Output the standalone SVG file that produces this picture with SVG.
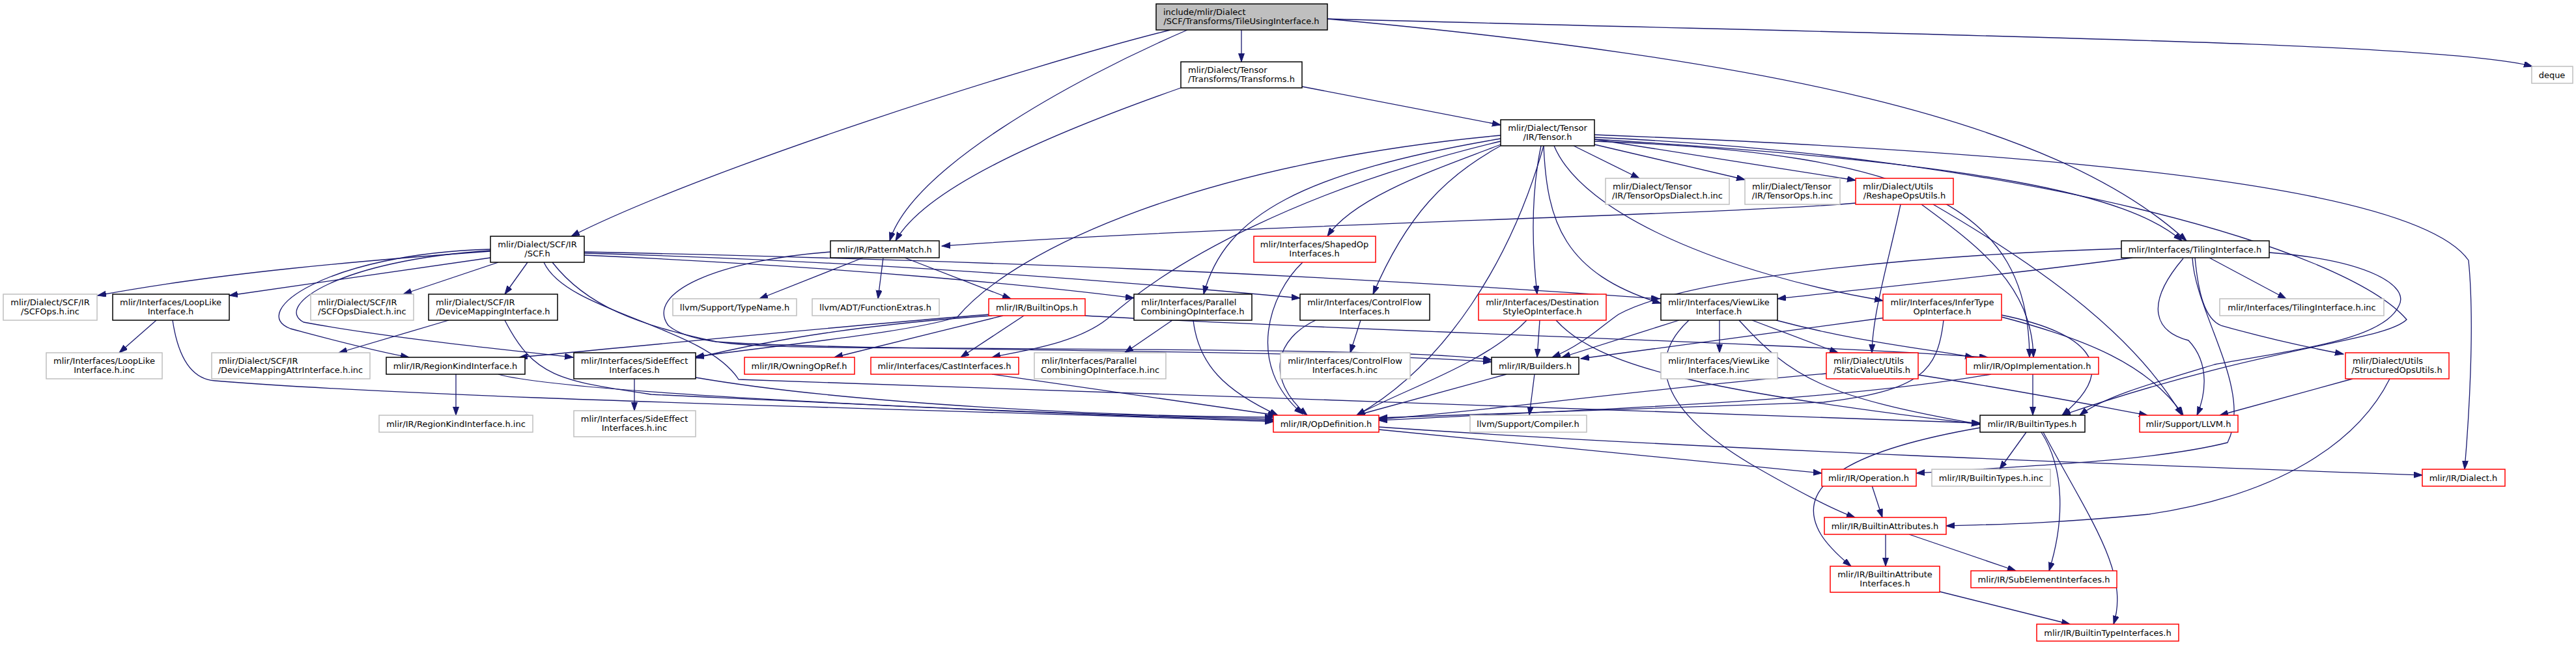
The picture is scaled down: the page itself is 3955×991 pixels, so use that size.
<svg xmlns="http://www.w3.org/2000/svg" width="3955" height="991" viewBox="0 0 3955 991">
<defs>
<marker id="ah" markerUnits="userSpaceOnUse" markerWidth="14" markerHeight="10" refX="13" refY="4.5" orient="auto">
<path d="M0,0 L13,4.5 L0,9 z" fill="#191970" stroke="#191970" stroke-width="1"/>
</marker>
<style>
rect{fill:#fff;stroke-width:1.5}
.b{stroke:#000}.r{stroke:#ff0000}.g{stroke:#bfbfbf}
.root{fill:#bfbfbf;stroke:#000}
text{font-family:"DejaVu Sans","Liberation Sans",sans-serif;font-size:13px;fill:#000}
.m{text-anchor:middle}
#edges path{fill:none;stroke:#191970;stroke-width:1.3;marker-end:url(#ah)}
</style>
</defs>
<rect width="3955" height="991" style="fill:#fff;stroke:none"/>
<g id="edges">
<path d="M1797,46 C1580,100 1080,260 877,363"/>
<path d="M1823,46 C1640,125 1400,260 1366,370"/>
<path d="M1906,46 L1906,95"/>
<path d="M2038,29 C2700,90 3150,180 3357,370"/>
<path d="M2038,29 C3000,55 3750,65 3888,102"/>
<path d="M1813,135 C1600,210 1420,290 1375,370"/>
<path d="M1999,133 L2304,192"/>
<path d="M2416,224 L2517,274"/>
<path d="M2448,222 L2679,276"/>
<path d="M2448,214 L2849,277"/>
<path d="M2304,222 C2220,255 2080,300 2038,363"/>
<path d="M2304,224 C2220,270 2160,330 2108,452"/>
<path d="M2366,224 C2350,300 2352,380 2360,452"/>
<path d="M2370,224 C2375,340 2400,420 2550,466"/>
<path d="M2386,224 C2430,330 2650,420 2891,462"/>
<path d="M2370,224 C2320,400 2220,560 2083,638"/>
<path d="M2304,208 C1850,250 1560,380 1470,487 C1400,510 1200,530 1068,548"/>
<path d="M2304,213 C2000,265 1880,330 1848,452"/>
<path d="M2304,217 C2000,290 1800,400 1700,490 C1650,530 1560,540 1523,549"/>
<path d="M2448,207 C3300,240 3720,300 3790,400 C3800,500 3790,650 3784,721"/>
<path d="M2448,211 C3100,240 3600,380 3695,491 C3660,525 3480,530 3166,638"/>
<path d="M2448,214 C3050,250 3270,300 3350,370"/>
<path d="M2448,217 C2950,235 3115,320 3116,549"/>
<path d="M2849,312 C2650,330 1900,345 1446,378"/>
<path d="M2918,314 C2900,400 2875,480 2874,542"/>
<path d="M2950,314 C3040,380 3120,440 3122,549"/>
<path d="M2968,314 C3150,420 3280,520 3350,638"/>
<path d="M753,386 C560,400 330,420 150,454"/>
<path d="M753,396 L352,454"/>
<path d="M765,403 L619,452"/>
<path d="M810,403 L775,452"/>
<path d="M753,383 C500,390 380,480 446,505 C520,525 580,540 628,549"/>
<path d="M753,385 C520,400 420,470 466,495 C600,520 800,540 880,549"/>
<path d="M897,387 C1500,400 2000,420 2548,459"/>
<path d="M897,389 C1300,400 1700,430 1996,458"/>
<path d="M897,392 C1300,410 1600,440 1741,458"/>
<path d="M848,403 C900,470 980,500 1100,525 C1300,540 2000,536 2290,556"/>
<path d="M835,403 C870,480 1080,500 1134,583 C1500,600 2600,630 3040,650"/>
<path d="M1325,396 L1166,459"/>
<path d="M1356,396 L1348,459"/>
<path d="M1389,396 L1552,459"/>
<path d="M1275,387 C1100,400 990,450 1026,500 C1060,530 1150,532 1300,534 C1800,537 2200,538 2290,553"/>
<path d="M240,492 L183,542"/>
<path d="M265,492 C275,560 300,583 330,585 C700,615 1500,630 1955,648"/>
<path d="M689,492 L520,542"/>
<path d="M775,492 C820,580 860,585 1000,606 C1400,625 1700,640 1955,646"/>
<path d="M700,575 L700,638"/>
<path d="M765,575 C850,600 1400,630 1955,644"/>
<path d="M974,582 L974,631"/>
<path d="M1068,580 C1300,620 1700,640 1955,641"/>
<path d="M1523,485 C1300,500 1150,530 1068,550"/>
<path d="M1520,483 C1300,500 1000,530 797,549"/>
<path d="M1540,485 L1281,549"/>
<path d="M1572,485 L1475,549"/>
<path d="M1666,485 C2000,505 2700,525 3052,549"/>
<path d="M1523,575 L1960,638"/>
<path d="M1800,492 L1727,542"/>
<path d="M1832,492 C1840,560 1880,600 1962,638"/>
<path d="M2000,403 C1950,450 1910,560 2000,636"/>
<path d="M2089,492 L2073,542"/>
<path d="M2020,492 C1960,520 1940,580 2007,638"/>
<path d="M2344,492 C2280,560 2150,600 2083,638"/>
<path d="M2364,492 L2360,549"/>
<path d="M2389,492 C2450,560 2600,600 3040,652"/>
<path d="M2578,492 L2398,549"/>
<path d="M2640,492 L2640,542"/>
<path d="M2593,492 C2520,560 2560,640 2700,720 C2770,760 2820,785 2848,795"/>
<path d="M2670,492 C2750,580 2800,610 3040,652"/>
<path d="M2690,492 L2822,542"/>
<path d="M2727,492 C2850,525 2950,535 3030,549"/>
<path d="M2895,488 L2427,551"/>
<path d="M2984,492 C2975,570 2950,600 2800,618 C2500,630 2300,636 2117,642"/>
<path d="M3073,484 C3200,510 3260,560 3166,638"/>
<path d="M3073,487 C3200,520 3300,560 3352,638"/>
<path d="M2804,574 C2500,600 2300,630 2117,644"/>
<path d="M2945,576 C3100,600 3200,620 3297,638"/>
<path d="M3121,575 L3121,638"/>
<path d="M3057,575 C2800,620 2400,630 2117,646"/>
<path d="M3392,396 L3510,459"/>
<path d="M3257,382 C3000,390 2600,420 2485,483 C2460,500 2430,530 2383,549"/>
<path d="M3274,396 C3100,420 2900,440 2729,459"/>
<path d="M3352,397 C3290,470 3310,510 3360,523 C3395,560 3385,610 3373,638"/>
<path d="M3366,396 C3370,480 3460,600 3420,680 C3300,710 3100,716 2942,727"/>
<path d="M3370,396 C3375,450 3385,490 3410,500 C3480,520 3550,535 3598,544"/>
<path d="M3484,388 C3640,400 3700,440 3683,470 C3660,520 3540,535 3400,560 C3300,590 3230,610 3193,638"/>
<path d="M3612,582 L3408,638"/>
<path d="M3669,582 C3620,680 3500,760 3300,790 C3150,805 3050,806 2988,808"/>
<path d="M3111,664 L3070,721"/>
<path d="M3134,664 C3170,720 3170,800 3146,877"/>
<path d="M3137,664 C3210,800 3270,880 3245,959"/>
<path d="M3041,657 C2850,690 2760,740 2790,810 C2800,835 2830,860 2842,870"/>
<path d="M2117,660 L2797,727"/>
<path d="M2117,656 C2600,690 3300,715 3719,730"/>
<path d="M2874,746 L2890,795"/>
<path d="M2895,821 L2895,870"/>
<path d="M2931,821 L3095,877"/>
<path d="M2978,909 L3178,959"/>
<path d="M2356,575 L2348,638"/>
<path d="M2313,575 L2083,638"/>
</g>
<g id="n0"><rect class="root" x="1775" y="6" width="263" height="40"/><text x="1786" y="23">include/mlir/Dialect</text><text class="m" x="1906" y="37">/SCF/Transforms/TileUsingInterface.h</text></g>
<g id="n1"><rect class="b" x="753" y="363" width="144" height="40"/><text class="m" x="825" y="380">mlir/Dialect/SCF/IR</text><text class="m" x="825" y="394">/SCF.h</text></g>
<g id="n2"><rect class="g" x="5" y="452" width="144" height="40"/><text class="m" x="77" y="469">mlir/Dialect/SCF/IR</text><text class="m" x="77" y="483">/SCFOps.h.inc</text></g>
<g id="n3"><rect class="b" x="173" y="452" width="179" height="40"/><text class="m" x="262" y="469">mlir/Interfaces/LoopLike</text><text class="m" x="262" y="483">Interface.h</text></g>
<g id="n4"><rect class="g" x="477" y="452" width="158" height="40"/><text x="488" y="469">mlir/Dialect/SCF/IR</text><text class="m" x="556" y="483">/SCFOpsDialect.h.inc</text></g>
<g id="n5"><rect class="b" x="658" y="452" width="198" height="40"/><text x="669" y="469">mlir/Dialect/SCF/IR</text><text class="m" x="757" y="483">/DeviceMappingInterface.h</text></g>
<g id="n6"><rect class="b" x="1813" y="95" width="186" height="40"/><text x="1824" y="112">mlir/Dialect/Tensor</text><text class="m" x="1906" y="126">/Transforms/Transforms.h</text></g>
<g id="n7"><rect class="b" x="1275" y="370" width="167" height="26"/><text class="m" x="1358" y="388">mlir/IR/PatternMatch.h</text></g>
<g id="n8"><rect class="g" x="1033" y="459" width="190" height="26"/><text class="m" x="1128" y="477">llvm/Support/TypeName.h</text></g>
<g id="n9"><rect class="g" x="1247" y="459" width="195" height="26"/><text class="m" x="1344" y="477">llvm/ADT/FunctionExtras.h</text></g>
<g id="n10"><rect class="r" x="1518" y="459" width="148" height="26"/><text class="m" x="1592" y="477">mlir/IR/BuiltinOps.h</text></g>
<g id="n11"><rect class="b" x="1741" y="452" width="181" height="40"/><text x="1752" y="469">mlir/Interfaces/Parallel</text><text class="m" x="1831" y="483">CombiningOpInterface.h</text></g>
<g id="n12"><rect class="r" x="1925" y="363" width="187" height="40"/><text class="m" x="2018" y="380">mlir/Interfaces/ShapedOp</text><text class="m" x="2018" y="394">Interfaces.h</text></g>
<g id="n13"><rect class="b" x="1996" y="452" width="199" height="40"/><text class="m" x="2095" y="469">mlir/Interfaces/ControlFlow</text><text class="m" x="2095" y="483">Interfaces.h</text></g>
<g id="n14"><rect class="b" x="2304" y="184" width="144" height="40"/><text class="m" x="2376" y="201">mlir/Dialect/Tensor</text><text class="m" x="2376" y="215">/IR/Tensor.h</text></g>
<g id="n15"><rect class="g" x="2465" y="274" width="190" height="40"/><text x="2476" y="291">mlir/Dialect/Tensor</text><text class="m" x="2560" y="305">/IR/TensorOpsDialect.h.inc</text></g>
<g id="n16"><rect class="g" x="2679" y="274" width="146" height="40"/><text x="2690" y="291">mlir/Dialect/Tensor</text><text class="m" x="2752" y="305">/IR/TensorOps.h.inc</text></g>
<g id="n17"><rect class="r" x="2849" y="274" width="150" height="40"/><text x="2860" y="291">mlir/Dialect/Utils</text><text class="m" x="2924" y="305">/ReshapeOpsUtils.h</text></g>
<g id="n18"><rect class="r" x="2270" y="452" width="196" height="40"/><text class="m" x="2368" y="469">mlir/Interfaces/Destination</text><text class="m" x="2368" y="483">StyleOpInterface.h</text></g>
<g id="n19"><rect class="b" x="2550" y="452" width="179" height="40"/><text class="m" x="2639" y="469">mlir/Interfaces/ViewLike</text><text class="m" x="2639" y="483">Interface.h</text></g>
<g id="n20"><rect class="r" x="2891" y="452" width="182" height="40"/><text class="m" x="2982" y="469">mlir/Interfaces/InferType</text><text class="m" x="2982" y="483">OpInterface.h</text></g>
<g id="n21"><rect class="g" x="3887" y="102" width="63" height="26"/><text class="m" x="3918" y="120">deque</text></g>
<g id="n22"><rect class="b" x="3257" y="370" width="227" height="26"/><text class="m" x="3370" y="388">mlir/Interfaces/TilingInterface.h</text></g>
<g id="n23"><rect class="g" x="3408" y="459" width="252" height="26"/><text class="m" x="3534" y="477">mlir/Interfaces/TilingInterface.h.inc</text></g>
<g id="n24"><rect class="g" x="71" y="542" width="178" height="40"/><text class="m" x="160" y="559">mlir/Interfaces/LoopLike</text><text class="m" x="160" y="573">Interface.h.inc</text></g>
<g id="n25"><rect class="g" x="325" y="542" width="243" height="40"/><text x="336" y="559">mlir/Dialect/SCF/IR</text><text class="m" x="446" y="573">/DeviceMappingAttrInterface.h.inc</text></g>
<g id="n26"><rect class="b" x="593" y="549" width="213" height="26"/><text class="m" x="699" y="567">mlir/IR/RegionKindInterface.h</text></g>
<g id="n27"><rect class="b" x="881" y="542" width="187" height="40"/><text class="m" x="974" y="559">mlir/Interfaces/SideEffect</text><text class="m" x="974" y="573">Interfaces.h</text></g>
<g id="n28"><rect class="g" x="582" y="638" width="236" height="26"/><text class="m" x="700" y="656">mlir/IR/RegionKindInterface.h.inc</text></g>
<g id="n29"><rect class="g" x="881" y="631" width="187" height="40"/><text class="m" x="974" y="648">mlir/Interfaces/SideEffect</text><text class="m" x="974" y="662">Interfaces.h.inc</text></g>
<g id="n30"><rect class="r" x="1143" y="549" width="169" height="26"/><text class="m" x="1227" y="567">mlir/IR/OwningOpRef.h</text></g>
<g id="n31"><rect class="r" x="1337" y="549" width="227" height="26"/><text class="m" x="1450" y="567">mlir/Interfaces/CastInterfaces.h</text></g>
<g id="n32"><rect class="g" x="1588" y="542" width="202" height="40"/><text x="1599" y="559">mlir/Interfaces/Parallel</text><text class="m" x="1689" y="573">CombiningOpInterface.h.inc</text></g>
<g id="n33"><rect class="g" x="1966" y="542" width="199" height="40"/><text class="m" x="2065" y="559">mlir/Interfaces/ControlFlow</text><text class="m" x="2065" y="573">Interfaces.h.inc</text></g>
<g id="n34"><rect class="r" x="1955" y="638" width="162" height="26"/><text class="m" x="2036" y="656">mlir/IR/OpDefinition.h</text></g>
<g id="n35"><rect class="b" x="2290" y="549" width="134" height="26"/><text class="m" x="2357" y="567">mlir/IR/Builders.h</text></g>
<g id="n36"><rect class="g" x="2550" y="542" width="179" height="40"/><text class="m" x="2639" y="559">mlir/Interfaces/ViewLike</text><text class="m" x="2639" y="573">Interface.h.inc</text></g>
<g id="n37"><rect class="r" x="2804" y="542" width="141" height="40"/><text x="2815" y="559">mlir/Dialect/Utils</text><text class="m" x="2874" y="573">/StaticValueUtils.h</text></g>
<g id="n38"><rect class="g" x="2257" y="638" width="179" height="26"/><text class="m" x="2346" y="656">llvm/Support/Compiler.h</text></g>
<g id="n39"><rect class="r" x="2797" y="721" width="145" height="26"/><text class="m" x="2869" y="739">mlir/IR/Operation.h</text></g>
<g id="n40"><rect class="r" x="2801" y="795" width="187" height="26"/><text class="m" x="2894" y="813">mlir/IR/BuiltinAttributes.h</text></g>
<g id="n41"><rect class="r" x="2810" y="870" width="168" height="40"/><text class="m" x="2894" y="887">mlir/IR/BuiltinAttribute</text><text class="m" x="2894" y="901">Interfaces.h</text></g>
<g id="n42"><rect class="r" x="3019" y="549" width="203" height="26"/><text class="m" x="3120" y="567">mlir/IR/OpImplementation.h</text></g>
<g id="n43"><rect class="b" x="3040" y="638" width="161" height="26"/><text class="m" x="3120" y="656">mlir/IR/BuiltinTypes.h</text></g>
<g id="n44"><rect class="r" x="3285" y="638" width="151" height="26"/><text class="m" x="3360" y="656">mlir/Support/LLVM.h</text></g>
<g id="n45"><rect class="r" x="3601" y="542" width="159" height="40"/><text x="3612" y="559">mlir/Dialect/Utils</text><text class="m" x="3680" y="573">/StructuredOpsUtils.h</text></g>
<g id="n46"><rect class="g" x="2966" y="721" width="182" height="26"/><text class="m" x="3057" y="739">mlir/IR/BuiltinTypes.h.inc</text></g>
<g id="n47"><rect class="r" x="3719" y="721" width="127" height="26"/><text class="m" x="3782" y="739">mlir/IR/Dialect.h</text></g>
<g id="n48"><rect class="r" x="3026" y="877" width="224" height="26"/><text class="m" x="3138" y="895">mlir/IR/SubElementInterfaces.h</text></g>
<g id="n49"><rect class="r" x="3127" y="959" width="218" height="26"/><text class="m" x="3236" y="977">mlir/IR/BuiltinTypeInterfaces.h</text></g>
</svg>
